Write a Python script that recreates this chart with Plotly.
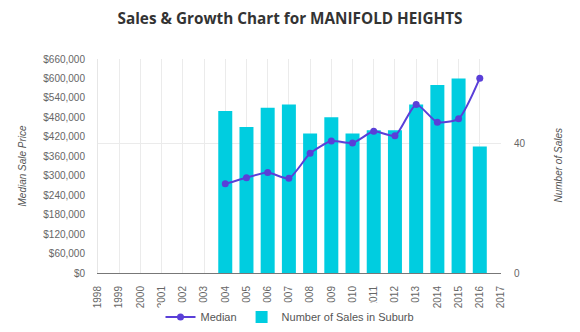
import plotly.graph_objects as go

years = list(range(1998, 2018))
sale_years = [2004, 2005, 2006, 2007, 2008, 2009, 2010, 2011, 2012, 2013, 2014, 2015, 2016]
sales_count = [50, 45, 51, 52, 43, 48, 43, 44, 44, 52, 58, 60, 39]
median_price = [275000, 294000, 310000, 292000, 369000, 407000, 401000, 437000, 423000, 520000, 465000, 476000, 601000]
price_ticks = list(range(0, 660001, 60000))
price_labels = ["$" + format(v, ",") for v in price_ticks]

BAR = "#00CDE0"
LINE = "#5A3FD8"
FONT = "Liberation Sans, Arial, sans-serif"

fig = go.Figure()
fig.add_trace(go.Bar(
    x=sale_years, y=sales_count, name="Number of Sales in Suburb",
    marker=dict(color=BAR, line=dict(width=0)), width=0.66, yaxis="y",
))
fig.add_trace(go.Scatter(
    x=sale_years, y=median_price, name="Median", mode="lines+markers",
    line=dict(color=LINE, width=2, shape="spline", smoothing=0.6),
    marker=dict(color=LINE, size=7), yaxis="y2",
))

fig.update_layout(
    width=580, height=332,
    margin=dict(l=98, r=79, t=59, b=59, autoexpand=False),
    paper_bgcolor="white", plot_bgcolor="white",
    font=dict(family=FONT, size=10, color="#666"),
    title=dict(text="<b>Sales & Growth Chart for MANIFOLD HEIGHTS</b>",
               x=0.5, xanchor="center", y=0.945, yanchor="middle",
               font=dict(family="Open Sans, sans-serif", size=15.3, color="#333")),
    showlegend=True,
    legend=dict(orientation="h", x=0.5, xanchor="center", xref="container",
                y=0.045, yanchor="middle", yref="container",
                font=dict(size=11, color="#555"), traceorder="reversed",
                itemwidth=30, tracegroupgap=0),
    xaxis=dict(range=[1998, 2017], tickmode="array", tickvals=years,
               ticktext=[str(y) for y in years], tickangle=-90,
               showgrid=True, gridcolor="#ebebeb", gridwidth=1,
               showline=True, linecolor="#777", linewidth=1,
               ticks="outside", ticklen=8, tickcolor="rgba(0,0,0,0)",
               zeroline=False, automargin=False),
    yaxis=dict(side="right", range=[0, 66], tickvals=[0, 40], ticktext=["0", "40"],
               showgrid=True, gridcolor="#ebebeb", zeroline=False,
               ticks="outside", ticklen=10, tickcolor="rgba(0,0,0,0)",
               showline=False, automargin=False),
    yaxis2=dict(side="left", overlaying="y", range=[0, 660000],
                tickvals=price_ticks, ticktext=price_labels,
                showgrid=False, zeroline=False, showline=True, linecolor="#e6e6e6",
                ticks="outside", ticklen=10, tickcolor="rgba(0,0,0,0)",
                automargin=False),
    annotations=[
        dict(text="<i>Median Sale Price</i>", x=14, y=166, xref="paper", yref="paper",
             showarrow=False, textangle=-90, font=dict(size=10, color="#555")),
        dict(text="<i>Number of Sales</i>", x=565, y=166, xref="paper", yref="paper",
             showarrow=False, textangle=-90, font=dict(size=10, color="#555")),
    ],
)
# convert pixel positions of axis titles to paper coords
pw = 580 - 98 - 79
ph = 332 - 59 - 59
for a in fig.layout.annotations:
    px, py = a.x, a.y
    a.x = (px - 98) / pw
    a.y = (332 - 59 - py) / ph

fig.write_html("out.html")
